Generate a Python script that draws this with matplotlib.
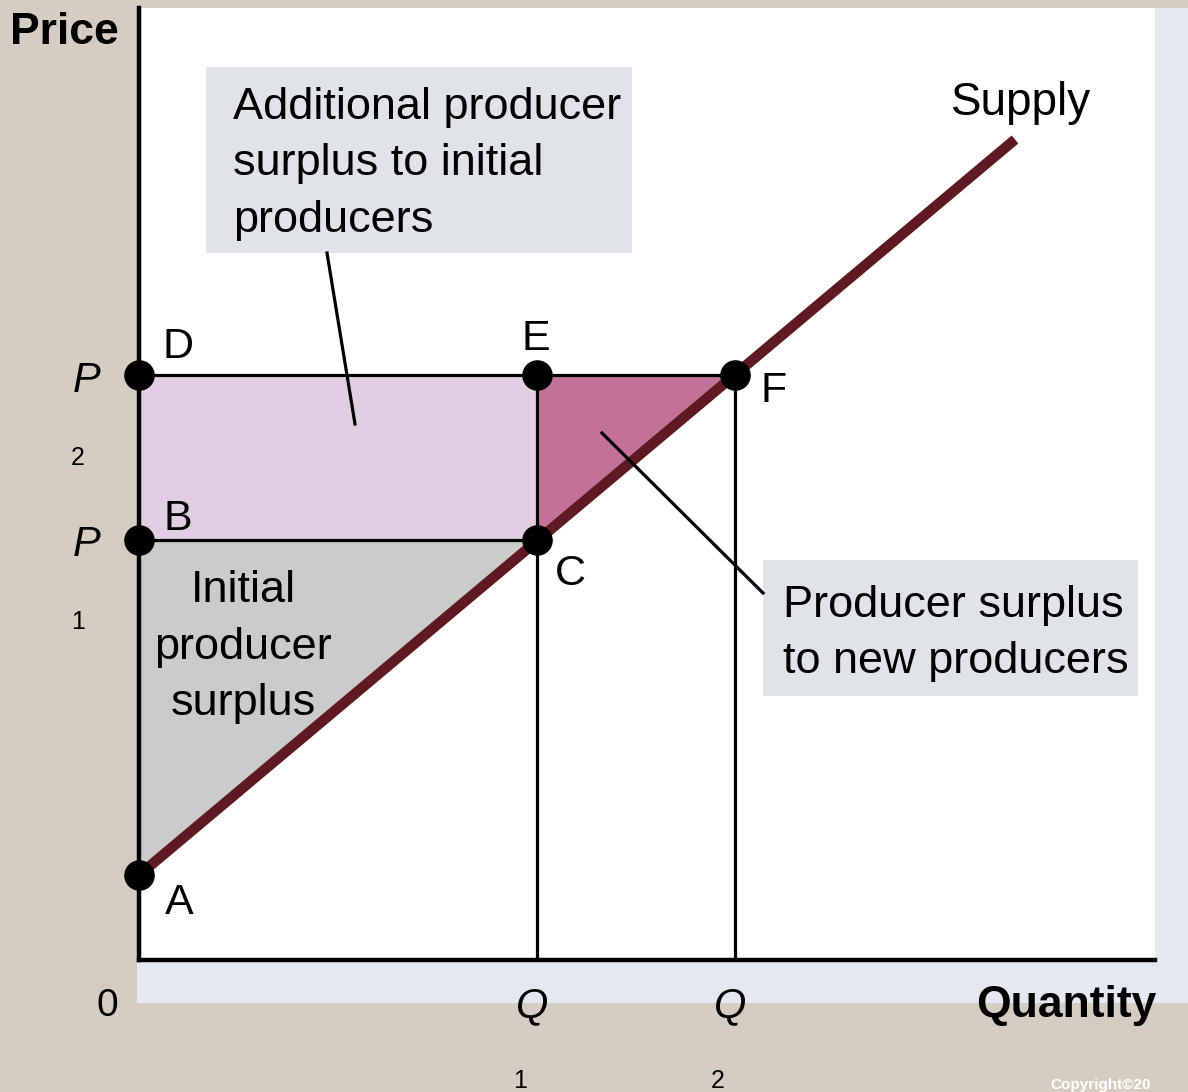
import matplotlib
matplotlib.use("Agg")
import matplotlib.pyplot as plt
from matplotlib.patches import Rectangle, Polygon
from matplotlib.lines import Line2D

plt.rcParams['font.family'] = ['Liberation Sans', 'DejaVu Sans']

# ---- data (economic diagram, units of quantity / price) ----
Q_vals = [3.98, 5.96]          # Q1, Q2
P_vals = [4.20, 5.86]          # P1, P2
supply_intercept = 0.85        # point A
supply_x_end = 8.76
point_names = ["A", "B", "C", "D", "E", "F"]
xlim = (0, 10.16)
ylim = (0, 9.53)

Q1, Q2 = Q_vals
P1, P2 = P_vals
slope = (P2 - supply_intercept) / Q2

W, H = 1188, 1092
fig = plt.figure(figsize=(W / 100, H / 100), dpi=100)
fig.patch.set_facecolor('#D5CDC2')

def fp(px, py):
    """pixel (from top-left) -> figure fraction"""
    return px / W, 1 - py / H

def tp(px, py):
    """text position (slight downward correction for glyph centering)"""
    return fp(px, py + 3)

# light blue frame behind plot
x0, y0 = fp(137, 1003)
fig.patches.append(Rectangle((x0, y0), (1188 - 137) / W, (1003 - 8) / H,
                             transform=fig.transFigure, facecolor='#E4E8F0',
                             edgecolor='none', zorder=-5))

ax = fig.add_axes([139 / W, (H - 960) / H, 1016 / W, 952 / H])
ax.set_zorder(1)
ax.set_facecolor('white')
ax.set_xlim(*xlim)
ax.set_ylim(*ylim)
ax.set_xticks([])
ax.set_yticks([])
for s in ['top', 'right']:
    ax.spines[s].set_visible(False)
for s in ['left', 'bottom']:
    ax.spines[s].set_linewidth(3.2)
    ax.spines[s].set_color('black')

# areas
ax.add_patch(Polygon([(0, supply_intercept), (0, P1), (Q1, P1)], closed=True,
                     facecolor='#CBCBCB', edgecolor='none', zorder=1))
ax.add_patch(Polygon([(0, P1), (Q1, P1), (Q1, P2), (0, P2)], closed=True,
                     facecolor='#E2CEE2', edgecolor='none', zorder=1))
ax.add_patch(Polygon([(Q1, P1), (Q1, P2), (Q2, P2)], closed=True,
                     facecolor='#C27296', edgecolor='none', zorder=1))

lw = 2.3
ax.plot([0, Q2], [P2, P2], color='black', lw=lw, zorder=3)
ax.plot([0, Q1], [P1, P1], color='black', lw=lw, zorder=3)
ax.plot([Q1, Q1], [0, P2], color='black', lw=lw, zorder=3)
ax.plot([Q2, Q2], [0, P2], color='black', lw=lw, zorder=3)

# supply curve
ax.plot([0, supply_x_end], [supply_intercept, supply_intercept + slope * supply_x_end],
        color='#5E1A20', lw=7.5, solid_capstyle='butt', zorder=4)

# points
pts_x = [0, 0, Q1, 0, Q1, Q2]
pts_y = [supply_intercept, P1, P1, P2, P2, P2]
ax.plot(pts_x, pts_y, 'o', color='black', ms=21, zorder=6, clip_on=False)

fs = 32.5
# point labels
lab_pos = {"A": (179, 900), "B": (178, 516), "C": (570, 571),
           "D": (178, 344), "E": (536, 336), "F": (774, 388)}
for name in point_names:
    px, py = lab_pos[name]
    fig.text(*tp(px, py), name, fontsize=31, ha='center', va='center', zorder=10)

# axis labels
fig.text(*tp(10, 29), "Price", fontsize=32, fontweight='bold', ha='left', va='center', zorder=10)
fig.text(*tp(1157, 1003), "Quantity", fontsize=32, fontweight='bold', ha='right', va='center', zorder=10)
fig.text(*tp(107, 1003), "0", fontsize=28, ha='center', va='center', zorder=10)

# tick labels P1, P2, Q1, Q2
for (px, py), sub, sy in [((87, 378), "2", 455), ((87, 542), "1", 619)]:
    fig.text(*tp(px, py), "P", fontsize=30, style='italic', ha='center', va='center', zorder=10)
    fig.text(*tp(78, sy), sub, fontsize=18, ha='center', va='center', zorder=10)
for (px, py), sub in [((532, 1003), "1"), ((730, 1003), "2")]:
    fig.text(*tp(px, py), "Q", fontsize=30, style='italic', ha='center', va='center', zorder=10)
    fig.text(*tp(px - 12, 1078), sub, fontsize=18, ha='center', va='center', zorder=10)

# Supply label
fig.text(*tp(1021, 100), "Supply", fontsize=33, ha='center', va='center', zorder=10)

# Initial producer surplus
for txt, py in [("Initial", 588), ("producer", 644), ("surplus", 700)]:
    fig.text(*tp(243, py), txt, fontsize=fs, ha='center', va='center', zorder=10)

# callout boxes
box_col = '#E0E3E8'
bx0, by0 = fp(206, 253)
fig.patches.append(Rectangle((bx0, by0), (632 - 206) / W, (253 - 67) / H,
                             transform=fig.transFigure, facecolor=box_col,
                             edgecolor='none', zorder=5))
for txt, py in [("Additional producer", 105), ("surplus to initial", 161), ("producers", 218)]:
    fig.text(*tp(233, py), txt, fontsize=fs, ha='left', va='center', zorder=10)

bx0, by0 = fp(763, 696)
fig.patches.append(Rectangle((bx0, by0), (1138 - 763) / W, (696 - 560) / H,
                             transform=fig.transFigure, facecolor=box_col,
                             edgecolor='none', zorder=5))
for txt, py in [("Producer surplus", 602), ("to new producers", 658)]:
    fig.text(*tp(783, py), txt, fontsize=fs, ha='left', va='center', zorder=10)

# leader lines
for (xa, ya), (xb, yb) in [((327, 253), (355, 424)), ((602, 433), (763, 593))]:
    (fx1, fy1), (fx2, fy2) = fp(xa, ya), fp(xb, yb)
    fig.add_artist(Line2D([fx1, fx2], [fy1, fy2], transform=fig.transFigure,
                          color='black', lw=2.3, zorder=7))

fig.text(*fp(1050, 1085), "Copyright\u00a920", fontsize=11,
         fontweight='bold', color='white', ha='left', va='center', zorder=10)

fig.savefig("out.png", dpi=100, facecolor=fig.get_facecolor())
